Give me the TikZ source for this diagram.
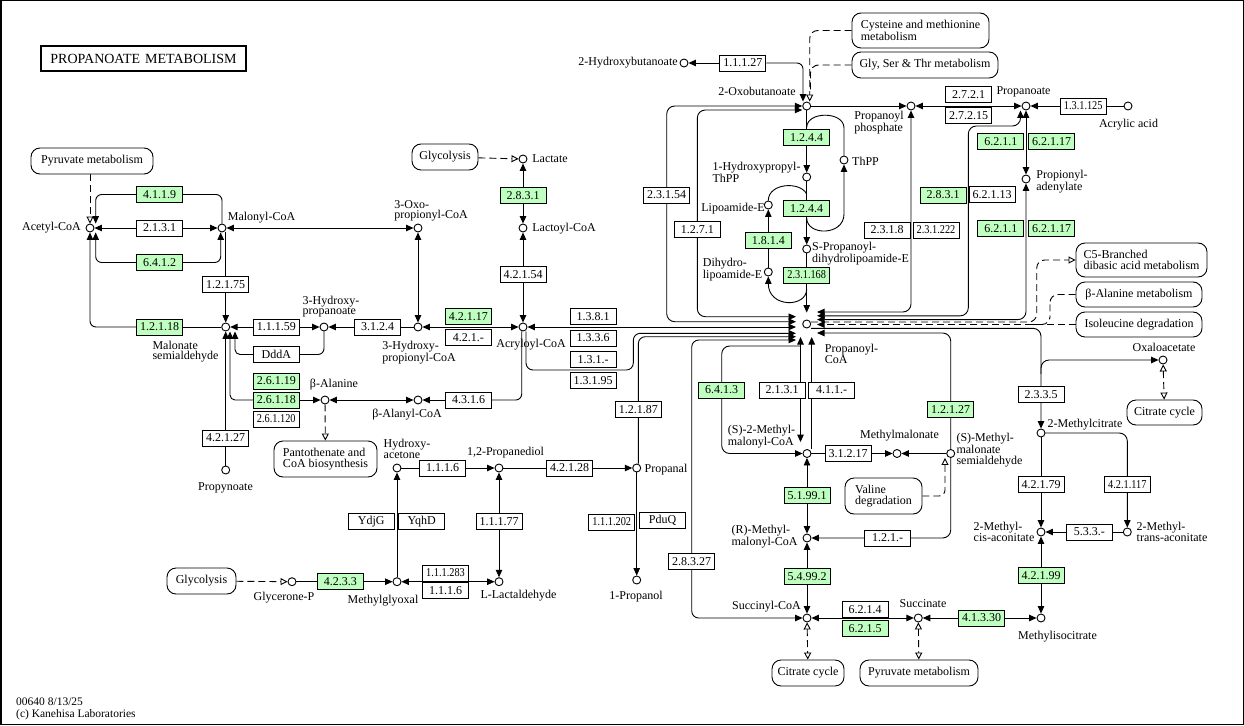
\documentclass[tikz,border=0pt]{standalone}
\usepackage{fontspec}
\setmainfont{Liberation Serif}
\newfontfamily\kcond[FakeStretch=0.86]{Liberation Serif}
\usetikzlibrary{arrows.meta}
\definecolor{kgreen}{RGB}{191,255,191}
\pgfdeclarelayer{bg}
\pgfsetlayers{bg,main}
\newcommand\kfs[2]{\fontsize{#1}{#2}\selectfont}
\newcommand\kenz[4][enz]{\node[#1] (#2) at (#3) {#4};}
\newcommand\kmet[2]{\node[met] (#1) at (#2) {};}
\begin{document}
\begin{tikzpicture}[x=1pt,y=-1pt,
 >={Triangle[length=7.5pt,width=6.5pt]},
 ln/.style={line width=0.9pt},
 ar/.style={ln,->}, ra/.style={ln,<-}, bi/.style={ln,<->},
 dln/.style={ln,dash pattern=on 7pt off 4pt},
 dar/.style={dln,-{Triangle[open,length=7pt,width=7pt]}},
 dbi/.style={dln,{Triangle[open,length=7pt,width=7pt]}-{Triangle[open,length=7pt,width=7pt]}},
 met/.style={circle,draw,line width=0.9pt,fill=white,inner sep=0pt,minimum size=8pt},
 enz/.style={draw,line width=0.9pt,fill=white,minimum width=46pt,minimum height=16pt,inner sep=0pt,font=\kfs{12}{12}},
 genz/.style={enz,fill=kgreen},
 enzs/.style={enz,font=\kcond\kfs{12}{12}},
 genzs/.style={enzs,fill=kgreen},
 mapb/.style={draw,line width=0.9pt,rounded corners=9pt,fill=white,inner sep=0pt,font=\kfs{12}{10.5},align=left},
 lb/.style={inner sep=0pt,font=\kfs{12}{10.5},align=left}]
\useasboundingbox (0,0) rectangle (1244,725);
\draw[line width=1.5pt] (0.75,0.75) rectangle (1243.25,724.25);
\node[draw,line width=1.8pt,minimum width=205pt,minimum height=25pt,inner sep=0pt,font=\kfs{14}{14}] (title) at (143.5,58.5) {PROPANOATE\hspace{5pt}METABOLISM};

% ---------- metabolites ----------
\kmet{acetyl}{90,228}
\kmet{malonyl}{222,228}
\kmet{oxoprop}{418,228}
\kmet{lactate}{523,159}
\kmet{lactoyl}{523,228}
\kmet{malsemi}{225.7,327}
\kmet{hpa}{324,327}
\kmet{hpcoa}{418,327}
\kmet{acryl}{523,327}
\kmet{bala}{325,400}
\kmet{balcoa}{418,400}
\kmet{propyn}{225.7,470}
\kmet{hyac}{397,468}
\kmet{prdiol}{499,468}
\kmet{propanal}{636.7,468}
\kmet{glyp}{292,581.7}
\kmet{mgly}{397,581.7}
\kmet{lact}{499,581.7}
\kmet{propanol}{636.7,580}
\kmet{hbut}{684,63}
\kmet{oxobut}{806.7,106}
\kmet{propp}{911,106}
\kmet{propa}{1026,106}
\kmet{acryla}{1128,106}
\kmet{hthpp}{806.7,177}
\kmet{thpp}{844,160}
\kmet{lipo}{768.3,205}
\kmet{spd}{806.7,249}
\kmet{dhl}{768.3,272}
\kmet{ppcoa}{806.7,324}
\kmet{smm}{807,453.5}
\kmet{mma}{897,453.5}
\kmet{smsa}{950.7,453.5}
\kmet{rmm}{807,538}
\kmet{succoa}{807,618}
\kmet{succ}{918.3,618}
\kmet{padn}{1026,179}
\kmet{oaa}{1163,360}
\kmet{mcit}{1041,433}
\kmet{mcis}{1041,532}
\kmet{mtrans}{1127.3,532}
\kmet{micit}{1041,618}

% ---------- enzymes ----------
\kenz[genz]{e4119}{159.5,194.5}{4.1.1.9}
\kenz{e2131a}{159.5,228}{2.1.3.1}
\kenz[genz]{e6412}{159.5,262.5}{6.4.1.2}
\kenz{e12175}{225.7,284.8}{1.2.1.75}
\kenz[genz]{e12118}{159.5,327}{1.2.1.18}
\kenz{e11159}{276.3,327}{1.1.1.59}
\kenz{edddA}{276.3,354.5}{DddA}
\kenz[genz]{e26119}{276.3,381}{2.6.1.19}
\kenz[genz]{e26118}{276.3,400}{2.6.1.18}
\kenz[enzs]{e261120}{276.3,419}{2.6.1.120}
\kenz{e42127}{225.7,438}{4.2.1.27}
\kenz{e3124}{377.5,327}{3.1.2.4}
\kenz[genz]{e42117}{468.3,316.7}{4.2.1.17}
\kenz{e421x}{468.3,337.2}{4.2.1.-}
\kenz{e42154}{523,274.3}{4.2.1.54}
\kenz[genz]{e2831a}{523,195.8}{2.8.3.1}
\kenz{e4316}{468.7,400}{4.3.1.6}
\kenz{e1381}{593,316.2}{1.3.8.1}
\kenz{e1336}{593,338}{1.3.3.6}
\kenz{e131x}{593,359.4}{1.3.1.-}
\kenz{e13195}{593,380.5}{1.3.1.95}
\kenz{e11116a}{442.5,468}{1.1.1.6}
\kenz{e42128}{569.7,468}{4.2.1.28}
\kenz{eydjg}{371.3,521.7}{YdjG}
\kenz{eyqhd}{421.7,521.7}{YqhD}
\kenz{e11177}{499,521.7}{1.1.1.77}
\kenz[enzs]{e111283}{445.5,573}{1.1.1.283}
\kenz{e11116b}{445.5,590.8}{1.1.1.6}
\kenz[genz]{e4233}{340.3,581.7}{4.2.3.3}
\kenz[enzs]{e111202}{611.8,522}{1.1.1.202}
\kenz{epduq}{662.5,520.3}{PduQ}
\kenz{e12187}{638.3,409.5}{1.2.1.87}
\kenz{e28327}{691.7,561.7}{2.8.3.27}
\kenz[genz]{e6413}{721.7,390}{6.4.1.3}
\kenz{e2131b}{782.2,390}{2.1.3.1}
\kenz{e411x}{831.7,390}{4.1.1.-}
\kenz{e31217}{848,453.5}{3.1.2.17}
\kenz[genz]{e51991}{807,495.3}{5.1.99.1}
\kenz{e121x}{887.5,538}{1.2.1.-}
\kenz[genz]{e54992}{807,576.3}{5.4.99.2}
\kenz{e6214}{865,609.5}{6.2.1.4}
\kenz[genz]{e6215}{865,628.5}{6.2.1.5}
\kenz[genz]{e41330}{981.7,618}{4.1.3.30}
\kenz[genz]{e42199}{1041,575.3}{4.2.1.99}
\kenz{e533x}{1089.3,532}{5.3.3.-}
\kenz{e42179}{1041,484.5}{4.2.1.79}
\kenz[enzs]{e421117}{1127.3,484.5}{4.2.1.117}
\kenz{e2335}{1041,394.2}{2.3.3.5}
\kenz[genz]{e12127}{950.7,409.2}{1.2.1.27}
\kenz{e11127}{742.8,63}{1.1.1.27}
\kenz{e2754}{666.7,195}{2.3.1.54}
\kenz{e1271}{697.3,229.7}{1.2.7.1}
\kenz[genz]{e1244a}{806.7,137.8}{1.2.4.4}
\kenz[genz]{e1244b}{806.7,208.3}{1.2.4.4}
\kenz[genz]{e1814}{768.3,240.5}{1.8.1.4}
\kenz[genzs]{e231168}{806.7,275}{2.3.1.168}
\kenz{e2318}{887.2,230}{2.3.1.8}
\kenz[enzs]{e231222}{936,230}{2.3.1.222}
\kenz[genz]{e2831b}{943,195}{2.8.3.1}
\kenz{e62113}{992.2,194.7}{6.2.1.13}
\kenz[genz]{e6211a}{1000.8,141.7}{6.2.1.1}
\kenz[genz]{e62117a}{1051.5,141.7}{6.2.1.17}
\kenz[genz]{e6211b}{1000.8,228.3}{6.2.1.1}
\kenz[genz]{e62117b}{1051.5,228.3}{6.2.1.17}
\kenz{e2721}{968.7,94.2}{2.7.2.1}
\kenz{e27215}{968.7,115.3}{2.7.2.15}
\kenz[enzs]{e131125}{1083.2,106}{1.3.1.125}

% ---------- map boxes ----------
\node[mapb,minimum width=122pt,minimum height=26pt] (pyrmet1) at (92,161) {Pyruvate metabolism};
\node[mapb,minimum width=66pt,minimum height=26pt] (glyc1) at (445,157) {Glycolysis};
\node[mapb,minimum width=137pt,minimum height=35pt] (cysmet) at (920.5,30.5) {Cysteine and methionine\\metabolism};
\node[mapb,minimum width=146pt,minimum height=26pt] (glymet) at (925,65) {Gly, Ser \& Thr metabolism};
\node[mapb,minimum width=131pt,minimum height=34pt] (c5) at (1141.5,260) {C5-Branched\\dibasic acid metabolism};
\node[mapb,minimum width=126pt,minimum height=25pt] (balamet) at (1139,294.5) {β-Alanine metabolism};
\node[mapb,minimum width=126pt,minimum height=25pt] (ile) at (1139,324.5) {Isoleucine degradation};
\node[mapb,minimum width=75pt,minimum height=25pt] (citr1) at (1164.5,412.5) {Citrate cycle};
\node[mapb,minimum width=103pt,minimum height=36pt] (panto) at (325.5,459) {Pantothenate and\\CoA biosynthesis};
\node[mapb,minimum width=69pt,minimum height=26pt] (glyc2) at (201.5,581) {Glycolysis};
\node[mapb,minimum width=77pt,minimum height=36pt] (valine) at (883.5,496) {Valine\\degradation};
\node[mapb,minimum width=72pt,minimum height=26pt] (citr2) at (808,673) {Citrate cycle};
\node[mapb,minimum width=118pt,minimum height=26pt] (pyrmet2) at (919,673) {Pyruvate metabolism};

% ---------- labels ----------
\node[lb] (lacetyl) at (51.5,228) {Acetyl-CoA};
\node[lb] (lmalonyl) at (261.5,218) {Malonyl-CoA};
\node[lb] (loxoprop) at (431,211) {3-Oxo-\\propionyl-CoA};
\node[lb] (llactate) at (550,159) {Lactate};
\node[lb] (llactoyl) at (564,229) {Lactoyl-CoA};
\node[lb] (lmalsemi) at (185.5,351.5) {Malonate\\semialdehyde};
\node[lb] (lhpa) at (331,306.5) {3-Hydroxy-\\propanoate};
\node[lb] (lhpcoa) at (419,352.5) {3-Hydroxy-\\propionyl-CoA};
\node[lb] (lacryl) at (531,345) {Acryloyl-CoA};
\node[lb] (lbala) at (334,385) {β-Alanine};
\node[lb] (lbalcoa) at (407,415) {β-Alanyl-CoA};
\node[lb] (lpropyn) at (225.5,488) {Propynoate};
\node[lb] (lhyac) at (407,449) {Hydroxy-\\acetone};
\node[lb] (lprdiol) at (505.5,453) {1,2-Propanediol};
\node[lb] (lpropanal) at (666,470) {Propanal};
\node[lb] (lglyp) at (284,598) {Glycerone-P};
\node[lb] (lmgly) at (383,601) {Methylglyoxal};
\node[lb] (llact) at (518.5,596) {L-Lactaldehyde};
\node[lb] (lpropanol) at (636,597) {1-Propanol};
\node[lb] (lhbut) at (628,63) {2-Hydroxybutanoate};
\node[lb] (loxobut) at (757,91) {2-Oxobutanoate};
\node[lb] (lpropp) at (879,122.5) {Propanoyl\\phosphate};
\node[lb] (lpropa) at (1023.5,92) {Propanoate};
\node[lb] (lacryla) at (1128.5,125) {Acrylic acid};
\node[lb] (lhthpp) at (756.5,172) {1-Hydroxypropyl-\\ThPP};
\node[lb,anchor=west] (lthpp) at (852,161) {ThPP};
\node[lb] (llipo) at (733,209) {Lipoamide-E};
\node[lb] (ldhl) at (732.5,270) {Dihydro-\\lipoamide-E};
\node[lb] (lspd) at (860.5,254) {S-Propanoyl-\\dihydrolipoamide-E};
\node[lb] (lppcoa) at (851.5,354) {Propanoyl-\\CoA};
\node[lb] (lpadn) at (1062,181.5) {Propionyl-\\adenylate};
\node[lb] (lsmm) at (761.5,437) {(S)-2-Methyl-\\malonyl-CoA};
\node[lb] (lmma) at (899.5,436) {Methylmalonate};
\node[lb] (lsmsa) at (989.5,450) {(S)-Methyl-\\malonate\\semialdehyde};
\node[lb] (lrmm) at (764.5,537) {(R)-Methyl-\\malonyl-CoA};
\node[lb] (lsuccoa) at (766.5,607) {Succinyl-CoA};
\node[lb] (lsucc) at (923,604) {Succinate};
\node[lb] (loaa) at (1164,347) {Oxaloacetate};
\node[lb] (lmcit) at (1085,425) {2-Methylcitrate};
\node[lb] (lmcis) at (1004,532) {2-Methyl-\\cis-aconitate};
\node[lb] (lmtrans) at (1172,532) {2-Methyl-\\trans-aconitate};
\node[lb] (lmicit) at (1057.5,637) {Methylisocitrate};
\node[lb,anchor=west,font=\kfs{11.5}{12}] (foot) at (16,709) {00640 8/13/25\\(c) Kanehisa Laboratories};

% ---------- helper coordinates ----------
\coordinate (hubL1) at (796,316.7);
\coordinate (hubL2) at (796,321.7);
\coordinate (hubL3) at (796,327);
\coordinate (hubL4) at (796,333.3);
\coordinate (hubL5) at (796,336.7);
\coordinate (hubL6) at (796,340);
\coordinate (hubR1) at (817,312);
\coordinate (hubR2) at (817,315.8);
\coordinate (hubR3) at (817,319.6);
\coordinate (hubR4) at (811,322);
\coordinate (hubR5) at (817,324.5);
\coordinate (hubR6) at (811,328.3);
\coordinate (hubR7) at (817,333);
\coordinate (hubB1) at (800.5,337);
\coordinate (hubB2) at (811.7,337);
\coordinate (j6413) at (800.5,346);
\coordinate (cA) at (633.3,370);
\coordinate (cB) at (968.3,126);
\coordinate (cC) at (1036.7,300);
\coordinate (cD) at (1050,310);
\coordinate (cE) at (1030,324.5);
\coordinate (cF) at (1041,374);
\coordinate (cG) at (810.5,90);
\coordinate (tA) at (806.7,127.5);
\coordinate (tB) at (806.7,218);
\coordinate (tC) at (806.7,289);
\coordinate (tD) at (806.7,194);

% ---------- connectors ----------
\begin{pgfonlayer}{bg}
\draw[dar] (pyrmet1.south -| acetyl) -- (acetyl);
\draw[ln,rounded corners=6pt] (malonyl.north) |- (e4119.east);
\draw[ar,rounded corners=6pt] (e4119.west) -| ([xshift=5.7pt]acetyl.north);
\draw[ra] (acetyl) -- (e2131a.west);
\draw[ar] (e2131a.east) -- (malonyl);
\draw[ar,rounded corners=6pt] (e6412.west) -| ([xshift=5.7pt]acetyl.south);
\draw[ar,rounded corners=6pt] (e6412.east) -| ([xshift=-1.3pt]malonyl.south);
\draw[ln] (malsemi) -- (e12118.east);
\draw[ar,rounded corners=6pt] (e12118.west) -| (acetyl.south);
\draw[ar] (malonyl.south -| malsemi) -- (malsemi);
\draw[bi] (malonyl) -- (oxoprop);
\draw[bi] (oxoprop) -- (hpcoa);
\draw[ra] (malsemi) -- (e11159.west);
\draw[ar] (e11159.east) -- (hpa);
\draw[ln] (hpcoa) -- (e3124.east);
\draw[ar] (e3124.west) -- (hpa);
\draw[bi] (hpcoa) -- (acryl);
\draw[dar] (glyc1) -- (lactate);
\draw[bi] (lactate) -- (lactoyl);
\draw[bi] (lactoyl) -- (acryl);
\draw[ln,rounded corners=6pt] ([xshift=-1.3pt]acryl.south) |- (e4316.east);
\draw[ar] (e4316.west) -- (balcoa);
\draw[bi] (bala) -- (balcoa);
\draw[dar] (bala) -- (panto);
\draw[ra,rounded corners=5pt] ([xshift=4.3pt]malsemi.south) |- (e26118.west);
\draw[ar] (e26118.east) -- (bala);
\draw[ln,rounded corners=6pt] (hpa.south) |- (edddA.east);
\draw[ar,rounded corners=5pt] (edddA.west) -| ([xshift=9.3pt]malsemi.south);
\draw[ar] (propyn) -- (malsemi);
\draw[ln] (hyac) -- (e11116a.west);
\draw[ar] (e11116a.east) -- (prdiol);
\draw[ln] (prdiol) -- (e42128.west);
\draw[ar] (e42128.east) -- (propanal);
\draw[ar] (mgly) -- (hyac);
\draw[bi] (lact) -- (prdiol);
\draw[bi] (mgly) -- (lact);
\draw[ln] (glyp) -- (e4233.west);
\draw[ar] (e4233.east) -- (mgly);
\draw[dar] (glyc2) -- (glyp);
\draw[ar] (propanal) -- (propanol);
% hub, left side
\draw[bi,rounded corners=8pt] (oxobut) -| (e2754.north) |- (hubL2);
\draw[bi,rounded corners=8pt] ([yshift=-4pt]oxobut.west) -| (e1271.north) |- (hubL1);
\draw[bi] (acryl) -- (hubL3);
\draw[ar,rounded corners=7pt] ([xshift=3pt]acryl.south) |- (cA) |- (hubL4);
\draw[ar,rounded corners=7pt] ([xshift=1.6pt]propanal.north) |- (hubL5);
\draw[bi,rounded corners=7pt] (succoa) -| (e28327.south) |- (hubL6);
% top column
\draw[ra] (hbut) -- (e11127.west);
\draw[ar,rounded corners=6pt] (e11127.east) -| ([xshift=-3.7pt]oxobut.north);
\draw[dar,rounded corners=8pt] (cysmet.west) -| ([xshift=3pt]oxobut.north);
\draw[dln,rounded corners=8pt] (glymet.west) -| (cG);
\draw[ar] (oxobut) -- (hthpp);
\draw[ln] (tA) .. controls (806.7,111) and (844,111) .. (844,128) -- (thpp.north);
\draw[ar] (tB) .. controls (806.7,236) and (844,236) .. (844,214) -- (thpp.south);
\draw[ln] (lipo.north) .. controls (768.3,183) and (800,181) .. (tD);
\draw[ar] (hthpp) -- (spd);
\draw[ar] (dhl) -- (lipo);
\draw[ar] (spd) -- ([yshift=7pt]ppcoa.north);
\draw[ar] (tC) .. controls (806.7,308) and (768.3,308) .. (dhl.south);
\draw[ar] (oxobut) -- (propp);
\draw[bi] (propp) -- (propa);
\draw[ar] (acryla) -- (propa);
\draw[bi] (propa) -- (padn);
% hub, right side
\draw[bi,rounded corners=8pt] (propp) |- (hubR1);
\draw[bi,rounded corners=8pt] ([xshift=-5.5pt]propa.south) |- (cB) |- (hubR2);
\draw[bi,rounded corners=8pt] (padn) |- (hubR3);
\draw[dar,rounded corners=8pt] (hubR4) -| (cC) |- (c5.west);
\draw[dln,->] (ile.west |- hubR5) -- (hubR5);
\draw[dln,rounded corners=8pt] (balamet.west) -| (cD) |- (cE);
\draw[ar,rounded corners=8pt] (hubR6) -| (mcit);
\draw[ar,rounded corners=8pt] (cF) |- (oaa);
\draw[dbi] (oaa) -- (citr1);
\draw[ar,rounded corners=8pt] (smsa) |- (hubR7);
% lower right
\draw[bi] (hubB1) -- ([xshift=-6.5pt,yshift=7pt]smm.north);
\draw[ar] ([xshift=4.7pt]smm.north) -- (hubB2);
\draw[ar,rounded corners=8pt] (j6413) -| (e6413.north) |- (smm);
\draw[ln] (smm) -- (e31217.west);
\draw[ar] (e31217.east) -- (mma);
\draw[ar] (smsa) -- (mma);
\draw[dar,rounded corners=6pt] (valine.east) -| ([xshift=-5.7pt]smsa.south);
\draw[ar,rounded corners=8pt] (smsa) |- (rmm);
\draw[bi] (smm) -- (rmm);
\draw[bi] (rmm) -- (succoa);
\draw[bi] (succoa) -- (succ);
\draw[dbi] (succoa) -- (citr2);
\draw[dbi] (succ) -- (pyrmet2);
\draw[bi] (succ) -- (micit);
\draw[ar] (mcit) -- (mcis);
\draw[ar,rounded corners=8pt] (mcit) -| (mtrans);
\draw[ar] (mtrans) -- (mcis);
\draw[bi] (mcis) -- (micit);
\end{pgfonlayer}
\end{tikzpicture}
\end{document}
